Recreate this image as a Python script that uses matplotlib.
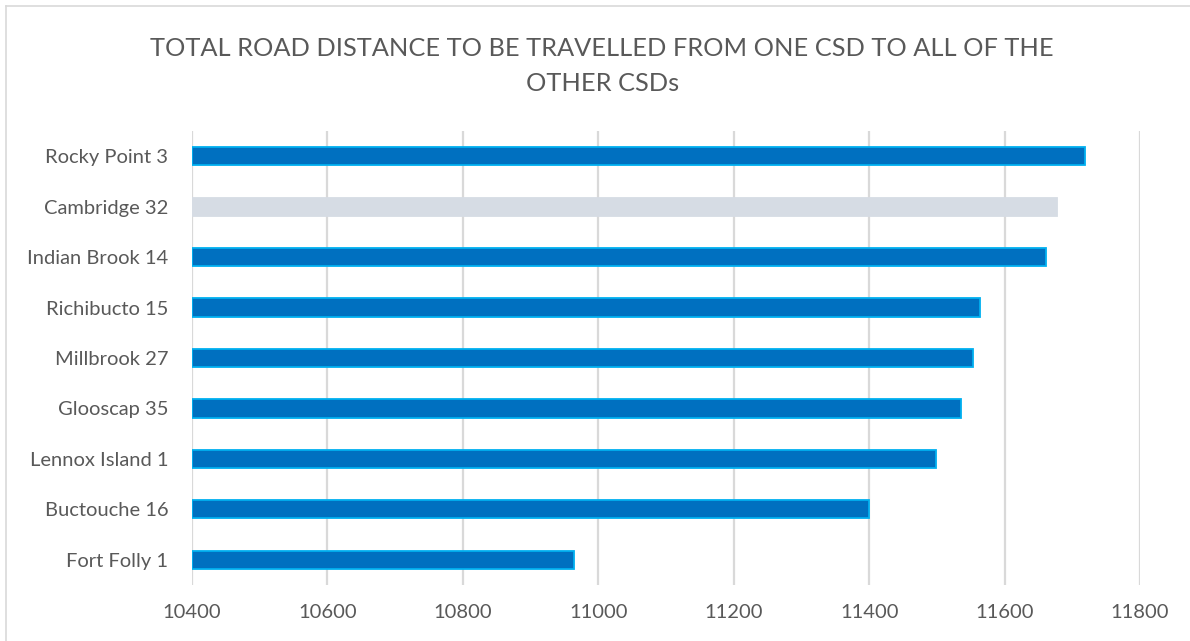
import numpy as np
import matplotlib.pyplot as plt
from matplotlib.lines import Line2D

plt.rcParams['font.family'] = ['Lato', 'DejaVu Sans']

# total road distance from each CSD to all of the others
csd_names = ['Rocky Point 3', 'Cambridge 32', 'Indian Brook 14', 'Richibucto 15',
             'Millbrook 27', 'Glooscap 35', 'Lennox Island 1', 'Buctouche 16',
             'Fort Folly 1']
total_distance = [11719, 11677, 11661, 11564, 11553, 11536, 11499, 11400, 10964]
highlight = 'Cambridge 32'

x_ticks = [10400, 10600, 10800, 11000, 11200, 11400, 11600, 11800]

text_grey = '#595959'
grid_grey = '#D9D9D9'

fig = plt.figure(figsize=(11.9, 6.41), dpi=100)
ax = fig.add_axes([192 / 1190, 1 - 585 / 641, (1140 - 192) / 1190, (585 - 131) / 641])

ypos = np.arange(len(csd_names))
fills = ['#D6DCE4' if n == highlight else '#0070C0' for n in csd_names]
edges = ['#D6DCE4' if n == highlight else '#00B0F0' for n in csd_names]
base = x_ticks[0]
widths = [v - base for v in total_distance]
ax.barh(ypos, widths, left=base, height=0.36, color=fills,
        edgecolor=edges, linewidth=1.3, zorder=3)

ax.set_xlim(x_ticks[0], x_ticks[-1])
ax.set_ylim(len(csd_names) - 0.5, -0.5)
ax.set_xticks(x_ticks)
ax.set_xticklabels([str(t) for t in x_ticks])
ax.set_yticks(ypos)
ax.set_yticklabels(csd_names)

ax.tick_params(axis='both', length=0, colors=text_grey, labelsize=14.5)
ax.tick_params(axis='x', pad=14)
ax.tick_params(axis='y', pad=17)
ax.xaxis.grid(True, color=grid_grey, linewidth=1.6, zorder=0)
for s in ax.spines.values():
    s.set_visible(False)

fig.text(0.506, 1 - 66 / 641,
         'TOTAL ROAD DISTANCE TO BE TRAVELLED FROM ONE CSD TO ALL OF THE\nOTHER CSDs',
         ha='center', va='center', fontsize=18.3, color=text_grey, linespacing=1.6)

# chart area border (top and left edges)
fig.add_artist(Line2D([6 / 1190, 1], [1 - 6 / 641, 1 - 6 / 641],
                      transform=fig.transFigure, color=grid_grey, linewidth=1.2))
fig.add_artist(Line2D([6 / 1190, 6 / 1190], [0, 1 - 6 / 641],
                      transform=fig.transFigure, color=grid_grey, linewidth=1.2))

fig.savefig('out.png', dpi=100)
